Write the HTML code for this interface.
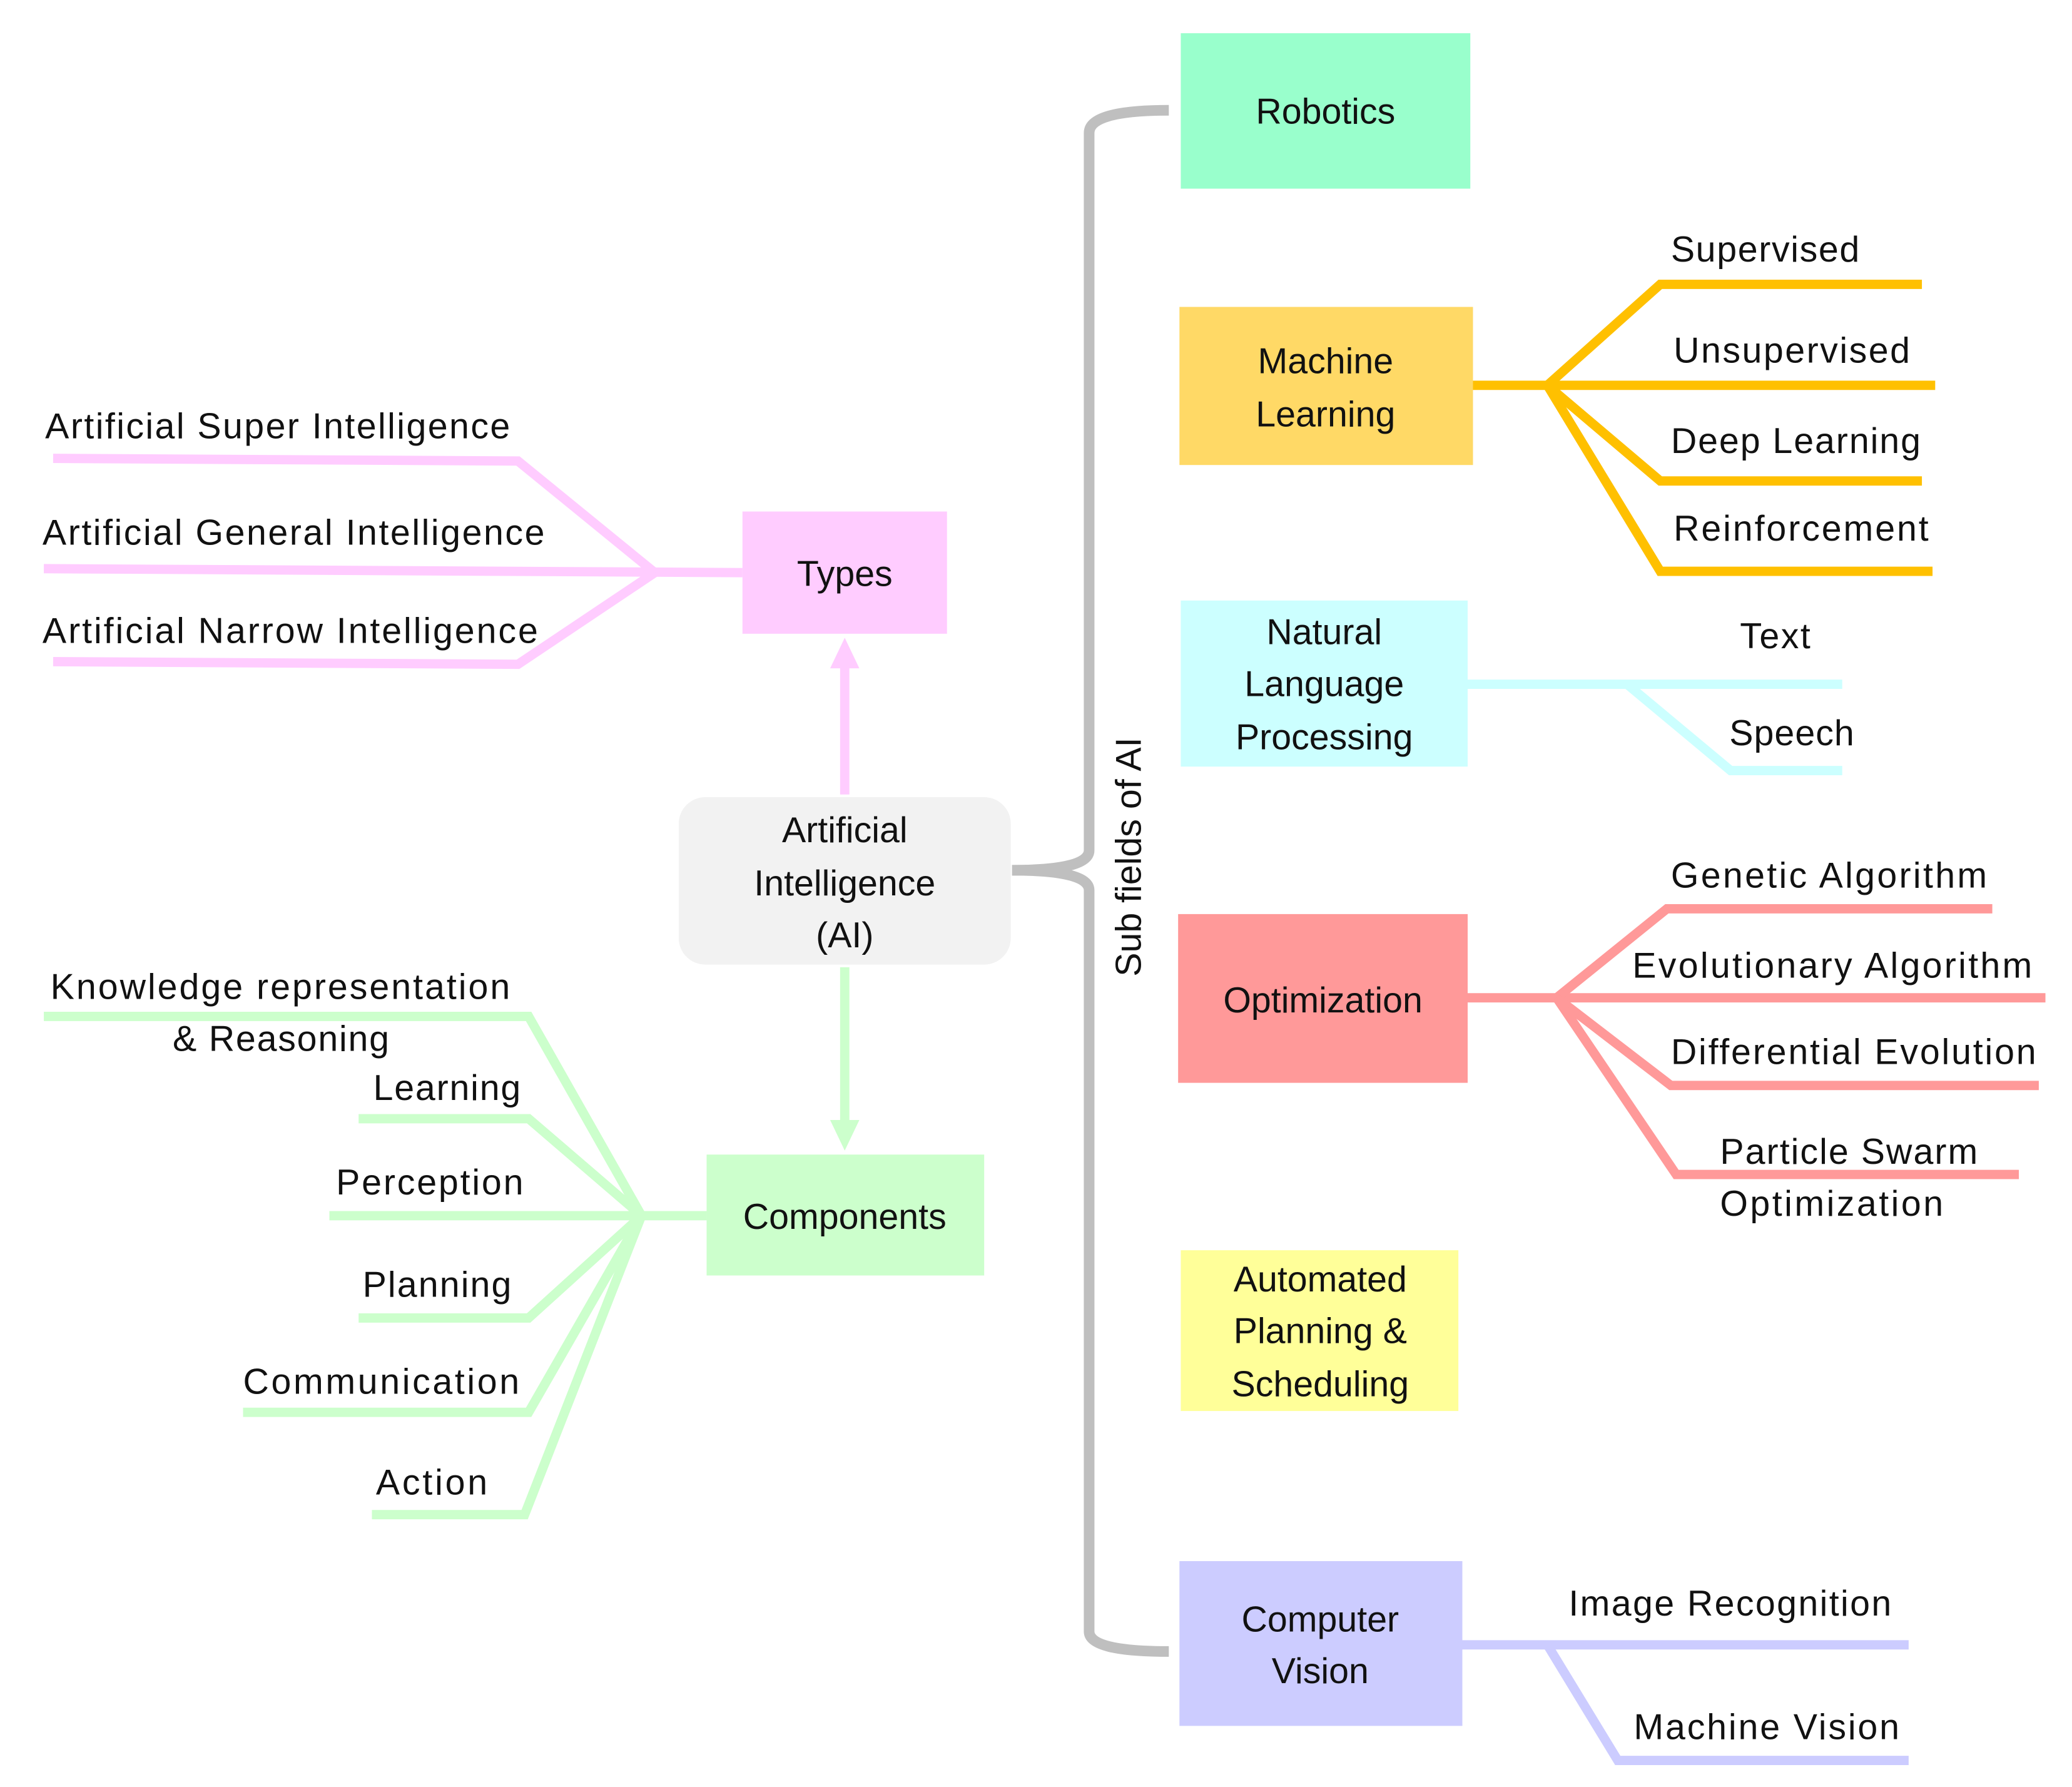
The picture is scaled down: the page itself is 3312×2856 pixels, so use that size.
<!DOCTYPE html>
<html><head><meta charset="utf-8"><style>
html,body{margin:0;padding:0;background:#fff;}
svg{display:block;}
text{font-family:"Liberation Sans",sans-serif;font-size:27px;fill:#111;dominant-baseline:central;}
.c{text-anchor:middle;}
</style></head><body>
<svg width="3312" height="2856" viewBox="0 0 1560 1345" preserveAspectRatio="none" xmlns="http://www.w3.org/2000/svg">
<rect width="1560" height="1345" fill="#fff"/>
<!-- gray bracket -->
<g fill="none" stroke="#bfbfbf" stroke-width="8" stroke-linejoin="round">
<path d="M880,83 Q820,83 820,100 L820,640 Q820,655 762,655"/>
<path d="M762,655 Q820,655 820,670 L820,1228 Q820,1243 880,1243"/>
</g>
<text transform="translate(850,645) rotate(-90)" class="c">Sub fields of AI</text>

<!-- ML branches -->
<g fill="none" stroke="#ffc000" stroke-width="7">
<path d="M1109,290 L1457,290"/>
<path d="M1165,290 L1250,214 L1447,214"/>
<path d="M1165,290 L1250,362 L1447,362"/>
<path d="M1165,290 L1250,430 L1455,430"/>
</g>
<!-- NLP -->
<g fill="none" stroke="#ccffff" stroke-width="7">
<path d="M1105,515 L1387,515"/>
<path d="M1225,515 L1303,580 L1387,580"/>
</g>
<!-- Optimization -->
<g fill="none" stroke="#ff9999" stroke-width="7">
<path d="M1105,751 L1540,751"/>
<path d="M1172,751 L1255,684 L1500,684"/>
<path d="M1172,751 L1258,817 L1535,817"/>
<path d="M1172,751 L1262,884 L1520,884"/>
</g>
<!-- CV -->
<g fill="none" stroke="#ccccff" stroke-width="7">
<path d="M1101,1238 L1437,1238"/>
<path d="M1165,1238 L1218,1325 L1437,1325"/>
</g>
<!-- Types -->
<g fill="none" stroke="#ffccff" stroke-width="7">
<path d="M559,431 L33,428"/>
<path d="M493,431 L390,347 L40,345"/>
<path d="M493,431 L390,500 L40,498"/>
</g>
<!-- Components -->
<g fill="none" stroke="#ccffcc" stroke-width="7">
<path d="M532,915 L248,915"/>
<path d="M483,915 L398,765 L33,765"/>
<path d="M483,915 L398,842 L270,842"/>
<path d="M483,915 L398,992 L270,992"/>
<path d="M483,915 L398,1063 L183,1063"/>
<path d="M483,915 L395,1140 L280,1140"/>
</g>
<!-- arrows -->
<line x1="636" y1="598" x2="636" y2="500" stroke="#ffccff" stroke-width="7"/>
<polygon points="636,480 625,503 647,503" fill="#ffccff"/>
<line x1="636" y1="728" x2="636" y2="846" stroke="#ccffcc" stroke-width="7"/>
<polygon points="636,866 625,843 647,843" fill="#ccffcc"/>

<!-- boxes -->
<rect x="889" y="25" width="218" height="117" fill="#99ffcc"/>
<text x="998" y="84" class="c">Robotics</text>
<rect x="888" y="231" width="221" height="119" fill="#ffd966"/>
<text x="998" y="272" class="c">Machine</text><text x="998" y="312" class="c">Learning</text>
<rect x="889" y="452" width="216" height="125" fill="#ccffff"/>
<text x="997" y="476" class="c">Natural</text><text x="997" y="515" class="c">Language</text><text x="997" y="555" class="c">Processing</text>
<rect x="887" y="688" width="218" height="127" fill="#ff9999"/>
<text x="996" y="753" class="c">Optimization</text>
<rect x="889" y="941" width="209" height="121" fill="#ffff99"/>
<text x="994" y="963" class="c">Automated</text><text x="994" y="1002" class="c">Planning &amp;</text><text x="994" y="1042" class="c">Scheduling</text>
<rect x="888" y="1175" width="213" height="124" fill="#ccccff"/>
<text x="994" y="1219" class="c">Computer</text><text x="994" y="1258" class="c">Vision</text>
<rect x="559" y="385" width="154" height="92" fill="#ffccff"/>
<text x="636" y="432" class="c">Types</text>
<rect x="511" y="600" width="250" height="126" rx="20" fill="#f2f2f2"/>
<text x="636" y="625" class="c">Artificial</text><text x="636" y="665" class="c">Intelligence</text><text x="636" y="704" class="c">(AI)</text>
<rect x="532" y="869" width="209" height="91" fill="#ccffcc"/>
<text x="636" y="916" class="c">Components</text>

<!-- labels right -->
<text x="1258" y="188" textLength="142">Supervised</text>
<text x="1260" y="264" textLength="178">Unsupervised</text>
<text x="1258" y="332" textLength="188">Deep Learning</text>
<text x="1260" y="398" textLength="192">Reinforcement</text>
<text x="1310" y="479" textLength="53">Text</text>
<text x="1302" y="552" textLength="94">Speech</text>
<text x="1258" y="659" textLength="238">Genetic Algorithm</text>
<text x="1229" y="727" textLength="301">Evolutionary Algorithm</text>
<text x="1258" y="792" textLength="275">Differential Evolution</text>
<text x="1295" y="867" textLength="194">Particle Swarm</text>
<text x="1295" y="906" textLength="168">Optimization</text>
<text x="1181" y="1207" textLength="243">Image Recognition</text>
<text x="1230" y="1300" textLength="200">Machine Vision</text>
<!-- labels left -->
<text x="34" y="321" textLength="350">Artificial Super Intelligence</text>
<text x="32" y="401" textLength="378">Artificial General Intelligence</text>
<text x="32" y="475" textLength="373">Artificial Narrow Intelligence</text>
<text x="38" y="743" textLength="346">Knowledge representation</text>
<text x="130" y="782" textLength="163">&amp; Reasoning</text>
<text x="281" y="819" textLength="111">Learning</text>
<text x="253" y="890" textLength="141">Perception</text>
<text x="273" y="967" textLength="112">Planning</text>
<text x="183" y="1040" textLength="208">Communication</text>
<text x="283" y="1116" textLength="84">Action</text>
</svg>
</body></html>
